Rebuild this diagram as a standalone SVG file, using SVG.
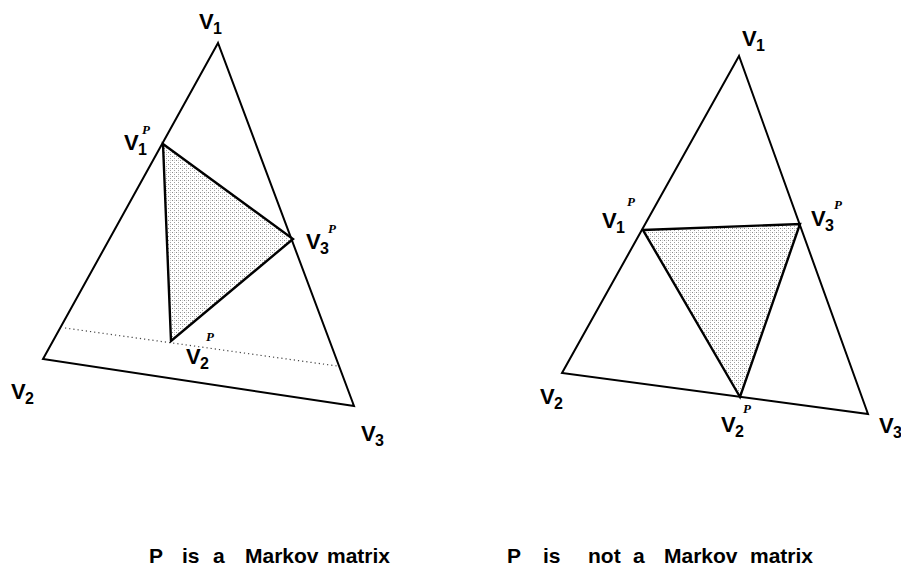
<svg xmlns="http://www.w3.org/2000/svg" width="901" height="586" viewBox="0 0 901 586">
<defs>
<pattern id="stip" width="4" height="4" patternUnits="userSpaceOnUse">
<rect x="0" y="0" width="1" height="1" fill="#8a8a8a"/>
<rect x="2" y="2" width="1" height="1" fill="#a0a0a0"/>
<rect x="2" y="0" width="1" height="1" fill="#d0d0d0"/>
</pattern>
</defs>
<style>
.tri{fill:none;stroke:#000;stroke-width:2;stroke-linejoin:miter}
.in{fill:url(#stip);stroke:#000;stroke-width:2.4;stroke-linejoin:miter}
.dot{fill:none;stroke:#444;stroke-width:1.2;stroke-dasharray:1.2 3}
.v{font-family:"Liberation Sans",Arial,sans-serif;font-weight:bold;font-size:22px;fill:#000}
.s{font-family:"Liberation Sans",Arial,sans-serif;font-weight:bold;font-size:16px;fill:#000}
.p{font-family:"Liberation Serif","Times New Roman",serif;font-style:italic;font-weight:bold;font-size:13px;fill:#000}
.cap{font-family:"Liberation Sans",Arial,sans-serif;font-weight:bold;font-size:21px;fill:#000}
</style>
<rect width="901" height="586" fill="#fff"/>

<g id="left-diagram">
<g id="left-outer"><polygon class="tri" points="218,43 43,359 354,406"/></g>
<g id="left-inner"><polygon class="in" points="163,144 293,239 171,341"/></g>
<g id="left-dotted"><line class="dot" x1="65" y1="328" x2="337" y2="366"/></g>
<g id="left-V1"><text class="v" x="199" y="29">V</text><text class="s" x="213" y="34">1</text></g>
<g id="left-V1P"><text class="v" x="124" y="150">V</text><text class="s" x="138" y="155">1</text><text class="p" x="142" y="134">P</text></g>
<g id="left-V3P"><text class="v" x="306" y="249">V</text><text class="s" x="320" y="254">3</text><text class="p" x="328" y="233">P</text></g>
<g id="left-V2P"><text class="v" x="186" y="364">V</text><text class="s" x="200" y="369">2</text><text class="p" x="206" y="341">P</text></g>
<g id="left-V2"><text class="v" x="11" y="399">V</text><text class="s" x="25" y="404">2</text></g>
<g id="left-V3"><text class="v" x="361" y="441">V</text><text class="s" x="375" y="446">3</text></g>
<text class="cap" x="149" y="563">P</text>
<text class="cap" x="182" y="563">is</text>
<text class="cap" x="213" y="563">a</text>
<text class="cap" x="245" y="563">Markov</text>
<text class="cap" x="327" y="563">matrix</text>
</g>

<g id="right-diagram">
<g id="right-outer"><polygon class="tri" points="739,56 562,373 868,414"/></g>
<g id="right-inner"><polygon class="in" points="643,230 800,224 740,397"/></g>
<g id="right-V1"><text class="v" x="742" y="46">V</text><text class="s" x="756" y="51">1</text></g>
<g id="right-V1P"><text class="v" x="602" y="228">V</text><text class="s" x="616" y="233">1</text><text class="p" x="627" y="206">P</text></g>
<g id="right-V3P"><text class="v" x="811" y="226">V</text><text class="s" x="825" y="231">3</text><text class="p" x="834" y="209">P</text></g>
<g id="right-V2P"><text class="v" x="721" y="432">V</text><text class="s" x="735" y="437">2</text><text class="p" x="743" y="413">P</text></g>
<g id="right-V2"><text class="v" x="540" y="404">V</text><text class="s" x="554" y="409">2</text></g>
<g id="right-V3"><text class="v" x="879" y="433">V</text><text class="s" x="893" y="438">3</text></g>
<text class="cap" x="507" y="563">P</text>
<text class="cap" x="543" y="563">is</text>
<text class="cap" x="588" y="563">not</text>
<text class="cap" x="633" y="563">a</text>
<text class="cap" x="664" y="563">Markov</text>
<text class="cap" x="750" y="563">matrix</text>
</g>
</svg>
